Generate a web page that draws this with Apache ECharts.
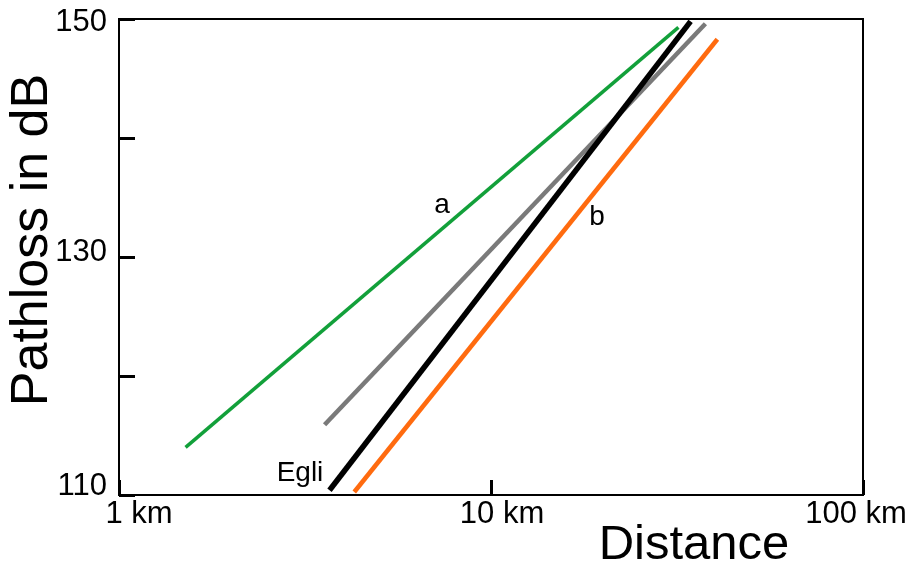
<!DOCTYPE html>
<html>
<head>
<meta charset="utf-8">
<script src="https://cdn.jsdelivr.net/npm/echarts@6/dist/echarts.min.js"></script>
<style>
  html, body { margin: 0; padding: 0; background: #fff; }
  #chart { width: 914px; height: 563px; }
</style>
</head>
<body>
<div id="chart"></div>
<script>
// distance in km (log axis) and pathloss in dB
var curveA_dist = [1.51, 31.9];
var curveA_loss = [114.0, 149.3];
var grey_dist = [3.57, 37.7];
var grey_loss = [115.9, 149.6];
var egli_dist = [3.68, 34.4];
var egli_loss = [110.4, 149.8];
var curveB_dist = [4.29, 40.6];
var curveB_loss = [110.25, 148.3];

var yLabels = { 150: '150', 130: '130', 110: '110' };
var xLabels = { 1: '1 km', 10: '10 km', 100: '100 km' };

function pairs(xs, ys) {
    var out = [];
    for (var i = 0; i < xs.length; i++) out.push([xs[i], ys[i]]);
    return out;
}

var font = '"Liberation Sans", Arial, Helvetica, sans-serif';
var myChart = echarts.init(document.getElementById('chart'));

var option = {
    backgroundColor: '#fff',
    animation: false,
    grid: {
        left: 119, top: 19, right: 51, bottom: 68,
        show: true, borderColor: '#000', borderWidth: 2
    },
    xAxis: {
        type: 'log',
        logBase: 10,
        min: 1,
        max: 100,
        axisLine: { show: true, lineStyle: { color: '#000', width: 2 } },
        axisTick: { show: true, inside: true, length: 15, lineStyle: { color: '#000', width: 3 } },
        splitLine: { show: false },
        axisLabel: {
            margin: 4,
            color: '#000',
            fontFamily: font,
            fontSize: 31,
            formatter: function (v) {
                var k = Math.round(v);
                if (k === 1) return '{l|' + xLabels[1] + '}';
                if (k === 10) return '{m|' + xLabels[10] + '}';
                if (k === 100) return '{r|' + xLabels[100] + '}';
                return '';
            },
            rich: {
                l: { fontSize: 31, fontFamily: font, color: '#000', padding: [0, 0, 0, 40] },
                m: { fontSize: 31, fontFamily: font, color: '#000', padding: [0, 0, 0, 22] },
                r: { fontSize: 31, fontFamily: font, color: '#000', padding: [0, 14, 0, 0] }
            }
        }
    },
    yAxis: {
        type: 'value',
        min: 110,
        max: 150,
        interval: 10,
        axisLine: { show: true, lineStyle: { color: '#000', width: 2 } },
        axisTick: { show: true, inside: true, length: 16, lineStyle: { color: '#000', width: 3 } },
        splitLine: { show: false },
        axisLabel: {
            margin: 12,
            color: '#000',
            fontFamily: font,
            fontSize: 31,
            formatter: function (v) {
                if (v === 150) return '{t|' + yLabels[150] + '}';
                if (v === 130) return '{m|' + yLabels[130] + '}';
                if (v === 110) return '{b|' + yLabels[110] + '}';
                return '';
            },
            rich: {
                t: { fontSize: 31, fontFamily: font, color: '#000', padding: [7, 0, 0, 0] },
                m: { fontSize: 31, fontFamily: font, color: '#000', padding: [0, 0, 10, 0] },
                b: { fontSize: 31, fontFamily: font, color: '#000', padding: [0, 0, 18, 0] }
            }
        }
    },
    series: [
        {
            name: 'a', type: 'line', showSymbol: false,
            lineStyle: { color: '#12a03a', width: 3.5 },
            data: pairs(curveA_dist, curveA_loss)
        },
        {
            name: 'grey', type: 'line', showSymbol: false,
            lineStyle: { color: '#7a7a7a', width: 4.5 },
            data: pairs(grey_dist, grey_loss)
        },
        {
            name: 'Egli', type: 'line', showSymbol: false,
            lineStyle: { color: '#000', width: 5.5 },
            data: pairs(egli_dist, egli_loss)
        },
        {
            name: 'b', type: 'line', showSymbol: false,
            lineStyle: { color: '#ff6b0f', width: 4.5 },
            data: pairs(curveB_dist, curveB_loss)
        }
    ],
    graphic: [
        {
            type: 'text', x: 33, y: 240, rotation: Math.PI / 2,
            style: { text: 'Pathloss in dB', fontSize: 52, fontFamily: font, fill: '#000', align: 'center', verticalAlign: 'middle' }
        },
        {
            type: 'text', x: 694, y: 545,
            style: { text: 'Distance', fontSize: 49, fontFamily: font, fill: '#000', align: 'center', verticalAlign: 'middle' }
        },
        {
            type: 'text', x: 442, y: 205,
            style: { text: 'a', fontSize: 28, fontFamily: font, fill: '#000', align: 'center', verticalAlign: 'middle' }
        },
        {
            type: 'text', x: 597, y: 217,
            style: { text: 'b', fontSize: 28, fontFamily: font, fill: '#000', align: 'center', verticalAlign: 'middle' }
        },
        {
            type: 'text', x: 300, y: 473,
            style: { text: 'Egli', fontSize: 28, fontFamily: font, fill: '#000', align: 'center', verticalAlign: 'middle' }
        }
    ]
};

myChart.setOption(option);
</script>
</body>
</html>
